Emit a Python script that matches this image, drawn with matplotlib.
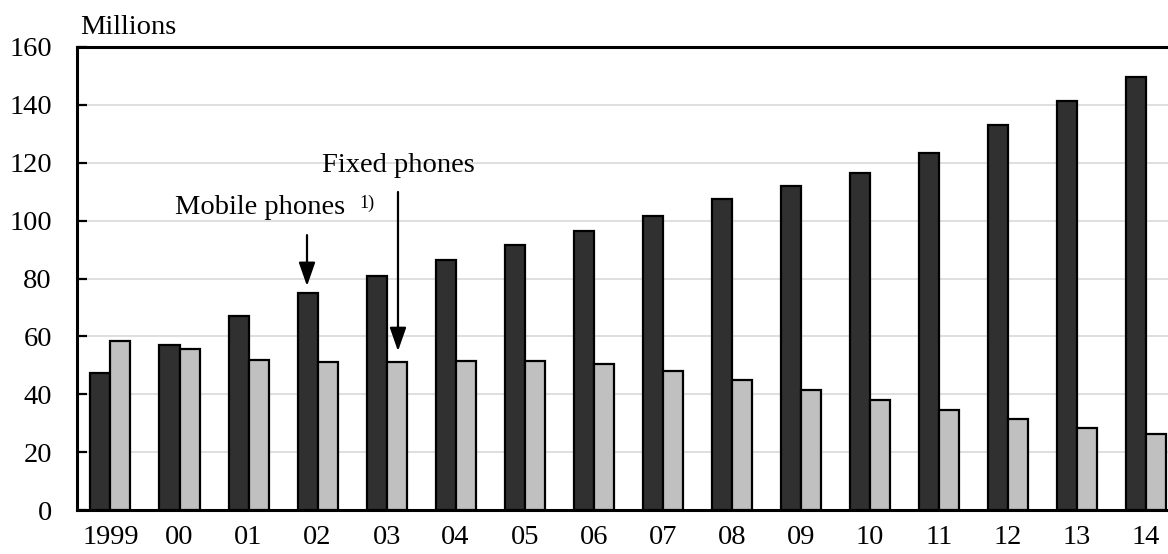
import matplotlib
matplotlib.use("Agg")
import matplotlib.pyplot as plt
import numpy as np

years = ["1999", "00", "01", "02", "03", "04", "05", "06", "07", "08",
         "09", "10", "11", "12", "13", "14"]
mobile = [47.3, 57.0, 67.0, 75.0, 81.0, 86.5, 91.5, 96.5, 101.5, 107.5,
          112.0, 116.5, 123.5, 133.0, 141.4, 149.7]
fixed = [58.5, 55.5, 52.0, 51.0, 51.0, 51.5, 51.5, 50.5, 48.0, 45.0,
         41.5, 37.9, 34.6, 31.3, 28.5, 26.2]
yticks = [0, 20, 40, 60, 80, 100, 120, 140, 160]

plt.rcParams['font.family'] = ['Liberation Serif', 'DejaVu Serif']
FS = 20.5

fig = plt.figure(figsize=(11.68, 5.54), dpi=100)
W, H = 1168, 554
ax = fig.add_axes([77 / W, 1 - 510 / H, 1 - 77 / W, (510 - 47) / H])

x = np.arange(len(years))
bw = 0.29
ax.bar(x - bw / 2, mobile, width=bw, color='#303030', edgecolor='black',
       linewidth=1.6, zorder=3)
ax.bar(x + bw / 2, fixed, width=bw, color='#c0c0c0', edgecolor='black',
       linewidth=1.6, zorder=3)

ax.set_ylim(0, 160)
ax.set_xlim(-0.485, 15.32)
ax.set_yticks(yticks)
ax.set_yticklabels([str(v) for v in yticks], fontsize=FS)
ax.set_xticks(x)
ax.set_xticklabels(years, fontsize=FS)
ax.tick_params(axis='y', direction='in', length=7, width=1.6, pad=18)
ax.tick_params(axis='x', length=0, pad=11)
ax.yaxis.grid(True, color='#d9d9d9', linewidth=1.2, zorder=0)
ax.set_axisbelow(True)

for s in ['left', 'bottom', 'top']:
    ax.spines[s].set_linewidth(2.2)
    ax.spines[s].set_color('black')
ax.spines['right'].set_visible(False)

fig.text(80 / W, 1 - 27 / H, "Millions", fontsize=FS, ha='left', va='center')

# Annotations
arrow_style = '-|>,head_length=0.8,head_width=0.28'
ax.text(4.165, 119.2, "Fixed phones", fontsize=FS, ha='center', va='center')
ax.annotate("", xy=(4.165, 54.9), xytext=(4.165, 109.9),
            arrowprops=dict(arrowstyle=arrow_style,
                            color='black', lw=1.6, shrinkA=0, shrinkB=0,
                            mutation_scale=18))
ax.text(0.935, 104.4, "Mobile phones", fontsize=FS, ha='left', va='center')
ax.text(3.6, 106.0, "1)", fontsize=13, ha='left', va='center')
ax.annotate("", xy=(2.847, 77.4), xytext=(2.847, 95.0),
            arrowprops=dict(arrowstyle=arrow_style,
                            color='black', lw=1.6, shrinkA=0, shrinkB=0,
                            mutation_scale=18))

fig.savefig("out.png", dpi=100)
